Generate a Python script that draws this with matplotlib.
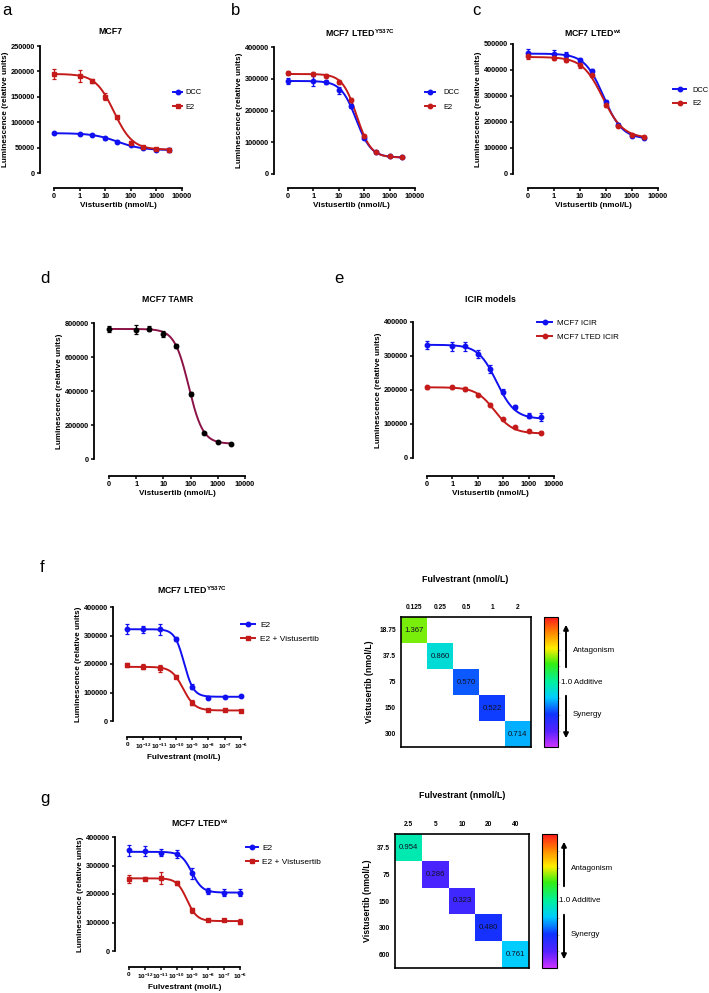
import numpy as np
import matplotlib
matplotlib.use("Agg")
import matplotlib.pyplot as plt
from matplotlib.patches import FancyArrowPatch
from matplotlib.ticker import NullLocator
from matplotlib.lines import Line2D
from matplotlib.cm import ScalarMappable
from matplotlib.colors import Normalize, LinearSegmentedColormap

plt.rcParams["font.family"] = ["Liberation Sans", "DejaVu Sans"]
plt.rcParams["mathtext.fontset"] = "custom"
plt.rcParams["mathtext.rm"] = "Liberation Sans"
plt.rcParams["mathtext.bf"] = "Liberation Sans:bold"

W, H = 709, 993
BLUE = "#1010f0"
RED = "#c41a1a"

# ---- data: vistusertib dose response (nmol/L) ----
vist_dose = [0, 1, 3, 10, 30, 100, 300, 1000, 3000]
vist_ticks = [0.1, 1, 10, 100, 1000, 10000]
vist_labels = ["0", "1", "10", "100", "1000", "10000"]

a_dcc = [78000, 76500, 74000, 68000, 62000, 55000, 49000, 46000, 46000]
a_dcc_err = [1500, 1500, 2000, 2500, 2000, 2000, 2500, 3000, 3000]
a_e2 = [195000, 191000, 181000, 150000, 110000, 60000, 51000, 47000, 46000]
a_e2_err = [10000, 12000, 4000, 7000, 3000, 2500, 2000, 3000, 4000]
a_dcc_fit = [78500, 45000, 30, 0.9]      # top, bottom, EC50, hill
a_e2_fit = [195000, 46000, 22, 1.2]

b_dcc = [293000, 293000, 290000, 263000, 213000, 114000, 69000, 57000, 53000]
b_dcc_err = [10000, 15000, 7000, 10000, 6000, 5000, 3000, 3000, 3000]
b_e2 = [319000, 315000, 310000, 290000, 234000, 120000, 70000, 56000, 53000]
b_e2_err = [6000, 5000, 5000, 5000, 5000, 3000, 3000, 2000, 2000]
b_dcc_fit = [293000, 52000, 48, 1.46]
b_e2_fit = [315000, 52000, 50.6, 1.55]

c_dcc = [465000, 463000, 458000, 438000, 395000, 275000, 190000, 148000, 138000]
c_dcc_err = [15000, 15000, 10000, 8000, 8000, 8000, 6000, 5000, 5000]
c_e2 = [452000, 448000, 440000, 418000, 380000, 265000, 185000, 150000, 143000]
c_e2_err = [8000, 8000, 10000, 12000, 6000, 6000, 5000, 5000, 5000]
c_dcc_fit = [463000, 135000, 80, 1.2]
c_e2_fit = [450000, 138000, 75, 1.1]

d_tamr = [765000, 761000, 767000, 735000, 663000, 382000, 153000, 100000, 90000]
d_tamr_err = [15000, 25000, 15000, 20000, 12000, 12000, 5000, 4000, 4000]
d_tamr_fit = [765000, 90000, 85, 1.66]

e_icir = [332000, 328000, 328000, 305000, 262000, 195000, 150000, 125000, 120000]
e_icir_err = [12000, 12000, 12000, 12000, 12000, 8000, 6000, 8000, 12000]
e_lted = [208000, 208000, 202000, 185000, 157000, 115000, 90000, 80000, 75000]
e_lted_err = [4000, 4000, 6000, 4000, 4000, 3000, 3000, 3000, 3000]
e_icir_fit = [333000, 115000, 55, 1.2]
e_lted_fit = [208000, 72000, 45, 1.2]

# ---- data: fulvestrant dose response (mol/L) ----
fulv_dose = [0, 1e-12, 1e-11, 1e-10, 1e-9, 1e-8, 1e-7, 1e-6]
fulv_ticks = [1e-13, 1e-12, 1e-11, 1e-10, 1e-9, 1e-8, 1e-7, 1e-6]
fulv_labels = ["0", r"$\mathbf{10^{-12}}$", r"$\mathbf{10^{-11}}$", r"$\mathbf{10^{-10}}$",
               r"$\mathbf{10^{-9}}$", r"$\mathbf{10^{-8}}$", r"$\mathbf{10^{-7}}$", r"$\mathbf{10^{-6}}$"]

f_e2 = [322000, 322000, 322000, 287000, 121000, 82000, 85000, 87000]
f_e2_err = [18000, 13000, 20000, 8000, 8000, 3000, 3000, 3000]
f_combo = [197000, 191000, 185000, 156000, 64000, 40000, 37000, 35000]
f_combo_err = [8000, 8000, 12000, 6000, 8000, 3000, 3000, 3000]
f_e2_fit = [322000, 85000, 3.2e-10, 1.5]
f_combo_fit = [190000, 37000, 2.8e-10, 1.21]

g_e2 = [353000, 350000, 345000, 340000, 272000, 210000, 204000, 204000]
g_e2_err = [20000, 18000, 12000, 15000, 20000, 10000, 12000, 12000]
g_combo = [253000, 254000, 256000, 238000, 143000, 108000, 108000, 103000]
g_combo_err = [13000, 6000, 20000, 8000, 8000, 4000, 4000, 10000]
g_e2_fit = [348000, 205000, 9.1e-10, 1.28]
g_combo_fit = [255000, 105000, 4.5e-10, 1.36]

# ---- data: combination index heatmaps ----
f_fulv_cols = ["0.125", "0.25", "0.5", "1", "2"]
f_vist_rows = ["18.75", "37.5", "75", "150", "300"]
f_ci = [1.367, 0.860, 0.570, 0.522, 0.714]

g_fulv_cols = ["2.5", "5", "10", "20", "40"]
g_vist_rows = ["37.5", "75", "150", "300", "600"]
g_ci = [0.954, 0.286, 0.323, 0.480, 0.761]

# CI colour scale, 0 (synergy) .. 2 (antagonism)
ci_cmap = LinearSegmentedColormap.from_list("ci", [
    (0.00, "#cc33ff"), (0.12, "#5522ff"), (0.25, "#1133ff"), (0.38, "#00ccff"),
    (0.50, "#00f0a0"), (0.64, "#33ee11"), (0.76, "#ffee00"), (0.88, "#ff8800"),
    (1.00, "#ff1a1a")])


def logistic(x, top, bottom, ec50, hill):
    return bottom + (top - bottom) / (1 + (x / ec50) ** hill)


fig = plt.figure(figsize=(W / 100, H / 100), dpi=100)


def curve_ax(yspine_x, x0, x1, ytop, y0, xaxis_y, ticks, labels, ymax, ystep, xlabel, tick_fs=5.3):
    ax = fig.add_axes([x0 / W, 1 - y0 / H, (x1 - x0) / W, (y0 - ytop) / H])
    ax.set_xscale("log")
    ax.set_xlim(ticks[0], ticks[-1])
    ax.set_ylim(0, ymax)
    ax.spines[["top", "right"]].set_visible(False)
    ax.spines["left"].set_position(("outward", (x0 - yspine_x) * 0.72))
    ax.spines["bottom"].set_position(("outward", (xaxis_y - y0) * 0.72))
    for s in ["left", "bottom"]:
        ax.spines[s].set_linewidth(1.3)
    ax.set_xticks(ticks)
    ax.set_xticklabels(labels)
    ax.xaxis.set_minor_locator(NullLocator())
    yt = np.arange(0, ymax + 1, ystep)
    ax.set_yticks(yt)
    ax.set_yticklabels([str(int(v)) for v in yt])
    ax.tick_params(direction="out", length=2.5, width=1.1, labelsize=5.3, pad=1.2)
    ax.tick_params(axis="x", labelsize=tick_fs)
    for lbl in ax.get_xticklabels() + ax.get_yticklabels():
        lbl.set_fontweight("bold")
    ax.set_xlabel(xlabel, fontsize=5.9, fontweight="bold", labelpad=1.5)
    ax.set_ylabel("Luminescence (relative units)", fontsize=5.9, fontweight="bold", labelpad=1.5)
    ax.patch.set_alpha(0)
    return ax


def series(ax, dose, zero_pos, y, err, fit, color, marker, line_color=None):
    xpos = [zero_pos if d == 0 else d for d in dose]
    xs = np.logspace(np.log10(zero_pos), np.log10(max(dose)), 300)
    ax.plot(xs, logistic(xs, *fit), color=line_color or color, lw=1.4, clip_on=False, zorder=2)
    ax.errorbar(xpos, y, yerr=err, fmt="none", ecolor=color, elinewidth=0.9,
                capsize=1.5, capthick=0.9, clip_on=False, zorder=3)
    ax.plot(xpos, y, ls="none", marker=marker, ms=3.2, color=color, clip_on=False, zorder=4)


def legend(ax, entries, hx, ymid, fs, hl_px, gap_px, row_px):
    fs_px = fs / 0.72
    handles = [Line2D([], [], color=c, marker=m, ms=3.2, lw=1.4) for c, m, _ in entries]
    ax.legend(handles, [t for _, _, t in entries], loc="center left",
              bbox_to_anchor=(hx / W, 1 - ymid / H), bbox_transform=fig.transFigure,
              frameon=False, fontsize=fs, handlelength=hl_px / fs_px,
              handletextpad=gap_px / fs_px, labelspacing=(row_px - 1.15 * fs_px) / fs_px,
              borderpad=0, borderaxespad=0, numpoints=1)


def title(x, y, text):
    fig.text(x / W, 1 - y / H, text, fontsize=6.3, fontweight="bold", ha="center", va="center")


def letter(x, y, text):
    fig.text(x / W, 1 - y / H, text, fontsize=12, ha="left", va="baseline")


# panel a
ax = curve_ax(40, 54, 182, 46, 173, 188, vist_ticks, vist_labels, 250000, 50000, "Vistusertib (nmol/L)")
series(ax, vist_dose, 0.1, a_dcc, a_dcc_err, a_dcc_fit, BLUE, "o")
series(ax, vist_dose, 0.1, a_e2, a_e2_err, a_e2_fit, RED, "s")
legend(ax, [(BLUE, "o", "DCC"), (RED, "s", "E2")], 173, 100, 5.4, 9, 3, 16)
title(110, 32, "MCF7")
letter(2, 15, "a")

# panel b
ax = curve_ax(274, 288, 415, 47, 174, 188, vist_ticks, vist_labels, 400000, 100000, "Vistusertib (nmol/L)")
series(ax, vist_dose, 0.1, b_dcc, b_dcc_err, b_dcc_fit, BLUE, "o")
series(ax, vist_dose, 0.1, b_e2, b_e2_err, b_e2_fit, RED, "o")
legend(ax, [(BLUE, "o", "DCC"), (RED, "o", "E2")], 425, 100, 5.4, 10, 8, 16)
title(360, 33, r"MCF7 LTED$^{\mathbf{Y537C}}$")
letter(231, 15, "b")

# panel c
ax = curve_ax(513, 528, 658, 44, 174, 188, vist_ticks, vist_labels, 500000, 100000, "Vistusertib (nmol/L)")
series(ax, vist_dose, 0.1, c_dcc, c_dcc_err, c_dcc_fit, BLUE, "o")
series(ax, vist_dose, 0.1, c_e2, c_e2_err, c_e2_fit, RED, "o")
legend(ax, [(BLUE, "o", "DCC"), (RED, "o", "E2")], 673, 97, 5.4, 13, 6, 15)
title(593, 33, r"MCF7 LTED$^{\mathbf{wt}}$")
letter(472, 15, "c")

# panel d
ax = curve_ax(94, 109, 245, 323, 459, 476, vist_ticks, vist_labels, 800000, 200000, "Vistusertib (nmol/L)")
series(ax, vist_dose, 0.1, d_tamr, d_tamr_err, d_tamr_fit, "black", "o", line_color="#8a1246")
title(168, 300, "MCF7 TAMR")
letter(40, 283, "d")

# panel e
ax = curve_ax(413, 427, 554, 322, 458, 476, vist_ticks, vist_labels, 400000, 100000, "Vistusertib (nmol/L)")
series(ax, vist_dose, 0.1, e_icir, e_icir_err, e_icir_fit, BLUE, "o")
series(ax, vist_dose, 0.1, e_lted, e_lted_err, e_lted_fit, RED, "o")
legend(ax, [(BLUE, "o", "MCF7 ICIR"), (RED, "o", "MCF7 LTED ICIR")], 537, 330, 5.8, 15, 5, 16)
title(490, 300, "ICIR models")
letter(334, 283, "e")

# panel f
ax = curve_ax(113, 127, 241, 607, 721, 737, fulv_ticks, fulv_labels, 400000, 100000, "Fulvestrant (mol/L)", tick_fs=4.6)
series(ax, fulv_dose, 1e-13, f_e2, f_e2_err, f_e2_fit, BLUE, "o")
series(ax, fulv_dose, 1e-13, f_combo, f_combo_err, f_combo_fit, RED, "s")
legend(ax, [(BLUE, "o", "E2"), (RED, "s", "E2 + Vistusertib")], 241, 632, 6, 14, 5, 15)
title(192, 590, r"MCF7 LTED$^{\mathbf{Y537C}}$")
letter(40, 572, "f")

# panel g
ax = curve_ax(115, 129, 240, 837, 951, 967, fulv_ticks, fulv_labels, 400000, 100000, "Fulvestrant (mol/L)", tick_fs=4.6)
series(ax, fulv_dose, 1e-13, g_e2, g_e2_err, g_e2_fit, BLUE, "o")
series(ax, fulv_dose, 1e-13, g_combo, g_combo_err, g_combo_fit, RED, "s")
legend(ax, [(BLUE, "o", "E2"), (RED, "s", "E2 + Vistusertib")], 246, 855, 6, 12, 4, 15)
title(200, 823, r"MCF7 LTED$^{\mathbf{wt}}$")
letter(40, 803, "g")


# combination index heatmaps
cmap = ci_cmap.copy()
cmap.set_bad("white")


def heatmap(bx0, bx1, by0, by1, cols, rows, ci, cb_x0, cb_x1, arrow_x, ylab_x, title_xy):
    ax = fig.add_axes([bx0 / W, 1 - by1 / H, (bx1 - bx0) / W, (by1 - by0) / H])
    n = len(ci)
    mat = np.full((n, n), np.nan)
    for i, v in enumerate(ci):
        mat[i, i] = v
    ax.imshow(np.ma.masked_invalid(mat), cmap=cmap, vmin=0, vmax=2, aspect="auto")
    for i, v in enumerate(ci):
        ax.text(i, i, f"{v:.3f}", ha="center", va="center", fontsize=5.6, color="#111122")
    ax.xaxis.tick_top()
    ax.set_xticks(range(n))
    ax.set_xticklabels(cols, fontsize=4.8, fontweight="bold")
    ax.set_yticks(range(n))
    ax.set_yticklabels(rows, fontsize=4.8, fontweight="bold")
    ax.tick_params(length=0)
    ax.tick_params(axis="x", pad=4)
    ax.tick_params(axis="y", pad=3.6)
    for s in ax.spines.values():
        s.set_linewidth(1.2)
    fig.text(title_xy[0] / W, 1 - title_xy[1] / H, "Fulvestrant (nmol/L)",
             fontsize=6.4, fontweight="bold", ha="center", va="center")
    fig.text(ylab_x / W, 1 - (by0 + by1) / 2 / H, "Vistusertib (nmol/L)", rotation=90,
             fontsize=6.3, fontweight="bold", ha="center", va="center")

    cax = fig.add_axes([cb_x0 / W, 1 - by1 / H, (cb_x1 - cb_x0) / W, (by1 - by0) / H])
    cb = fig.colorbar(ScalarMappable(norm=Normalize(0, 2), cmap=ci_cmap), cax=cax)
    cb.set_ticks(np.arange(0.25, 2, 0.25))
    cb.ax.tick_params(length=1.5, width=0.4, color="#999999", labelright=False)
    cb.outline.set_linewidth(0.8)

    mid = (by0 + by1) / 2
    for ya, yb in [(mid - 12, by0 + 5), (mid + 11, by1 - 6)]:
        fig.add_artist(FancyArrowPatch((arrow_x / W, 1 - ya / H), (arrow_x / W, 1 - yb / H),
                                       transform=fig.transFigure, arrowstyle="-|>",
                                       mutation_scale=7, lw=1.4, color="black"))
    fig.text((arrow_x + 7) / W, 1 - (mid - 32) / H, "Antagonism", fontsize=5.8, va="center")
    fig.text((arrow_x - 5) / W, 1 - mid / H, "1.0 Additive", fontsize=5.8, va="center")
    fig.text((arrow_x + 7) / W, 1 - (mid + 33) / H, "Synergy", fontsize=5.8, va="center")


heatmap(401, 531, 617, 747, f_fulv_cols, f_vist_rows, f_ci, 544, 558, 566, 370, (465, 579))
heatmap(395, 529, 834, 968, g_fulv_cols, g_vist_rows, g_ci, 542, 557, 564, 368, (462, 795))

fig.savefig("out.png", dpi=100)
